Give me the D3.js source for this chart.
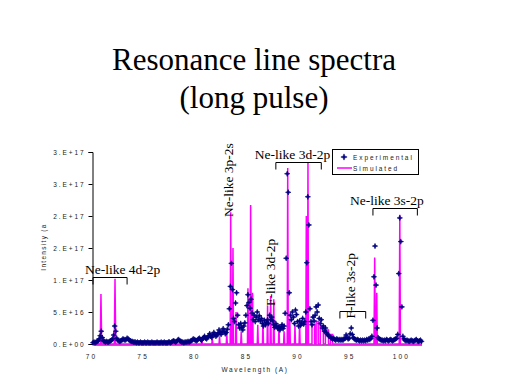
<!DOCTYPE html>
<html><head><meta charset="utf-8">
<script src="https://cdn.jsdelivr.net/npm/d3@7/dist/d3.min.js"></script>
<style>
html,body{margin:0;padding:0;background:#fff;}
svg{display:block;}
</style></head>
<body>
<script>
// ---- data (intensity in units of 1e16 a.u.) ----
const titleLines = ["Resonance line spectra", "(long pulse)"];
const yTickValues = [0, 5, 10, 15, 20, 25, 30];
const yTickLabels = ["0.E+00", "5.E+16", "1.E+17", "2.E+17", "2.E+17", "3.E+17", "3.E+17"];
const xTickValues = [70, 75, 80, 85, 90, 95, 100];
const xTickLabels = ["70", "75", "80", "85", "90", "95", "100"];
const xTitle = "Wavelength (A)";
const yTitle = "Intensity (a";
const seriesNames = ["Experimental", "Simulated"];

// Experimental: sampled every 0.1 A from 70.0 A
const expStart = 70.0, expStep = 0.1;
const expIntensity = [
 0.2,0.3,0.2,0.3,0.4,0.5,
 0.8,1.3,2.0,1.0,0.5,
 0.4,0.3,0.4,0.3,0.3,0.4,0.5,0.6,0.8,
 1.4,2.8,2.0,0.9,0.6,
 0.5,0.4,0.5,0.6,0.8,0.7,
 0.6,0.7,0.9,0.8,0.6,0.5,0.4,0.4,0.3,0.3,
 0.3,0.2,0.3,0.2,0.2,0.3,0.2,0.2,0.2,0.3,
 0.2,0.2,0.3,0.2,0.2,0.2,0.3,0.2,0.2,0.2,
 0.2,0.3,0.2,0.2,0.2,0.3,0.2,0.2,0.3,0.2,
 0.2,0.2,0.3,0.3,0.2,0.3,0.4,0.5,0.4,0.3,
 0.4,0.6,0.7,0.5,0.4,0.3,0.3,0.2,0.3,0.3,
 0.3,0.4,0.3,0.4,0.5,0.6,0.8,0.7,0.6,0.5,
 0.6,0.8,0.9,0.7,0.6,0.8,1.0,1.2,0.9,0.8,
 1.0,1.3,1.6,1.2,1.0,1.4,1.8,1.5,1.2,1.4,
 1.7,2.2,1.8,1.5,1.9,2.4,2.0,1.6,1.8,2.3,
 3.0,5.5,9.0,12.6,8.5,4.0,3.5,6.4,8.0,4.5,
 3.0,2.5,3.2,2.6,2.2,2.8,3.3,4.5,6.0,7.7,
 6.5,5.6,7.0,4.8,3.8,4.5,3.5,4.2,5.0,3.8,
 4.4,3.6,4.0,3.2,2.8,3.7,3.0,3.4,3.8,3.2,
 4.5,3.8,4.2,3.6,3.0,2.6,3.2,2.8,2.4,2.7,
 2.2,2.6,3.0,2.4,2.8,4.8,13.4,26.6,23.7,8.0,
 4.5,3.8,5.0,4.2,3.2,5.3,4.6,3.5,2.8,3.6,
 2.9,3.3,4.0,3.1,3.5,5.0,12.7,23.0,18.6,5.5,
 3.5,3.0,4.2,3.6,4.5,5.8,5.0,6.1,4.0,3.2,
 3.8,2.5,2.8,2.0,2.5,1.8,1.5,1.3,1.2,1.0,
 0.9,0.8,0.9,0.7,0.6,0.8,0.7,0.6,0.7,0.6,
 0.7,0.6,0.8,0.9,1.4,1.0,0.8,0.9,1.6,2.5,
 1.5,1.0,0.8,0.7,0.6,0.7,0.6,0.5,0.6,0.5,
 0.6,0.5,0.6,0.5,0.7,0.6,0.8,0.7,0.9,1.2,
 3.7,10.5,15.3,9.2,2.5,1.0,0.8,0.7,0.6,0.6,
 0.5,0.6,0.5,0.7,0.6,0.5,0.6,0.7,0.6,0.5,
 0.6,0.7,0.8,0.9,1.5,11.0,19.7,16.0,5.8,1.2,
 0.8,0.6,0.5,0.6,0.5,0.4,0.5,0.6,0.5,0.4,
 0.5,0.6,0.7,0.5,0.4,0.5,0.6,0.4
];

// Simulated: polyline vertices
const simWave = [
 70.0,70.7,70.77,70.84,
 72.06,72.13,72.2,
 80.5,80.55,80.6,
 81.5,81.55,81.6,
 82.2,82.25,82.3,
 82.9,82.95,83.0,
 83.28,83.33,83.38,
 83.5,83.55,83.6,
 83.8,83.85,83.9,
 84.3,84.35,84.4,
 84.95,85.0,85.06,
 85.2,85.26,85.32,
 85.4,85.45,85.5,
 85.9,85.95,86.0,
 86.4,86.45,86.5,
 86.85,86.9,86.95,
 87.15,87.2,87.25,
 87.45,87.5,87.55,
 87.95,88.0,88.05,
 88.45,88.5,88.55,
 88.8,88.85,88.9,
 89.0,89.05,89.1,
 89.5,89.55,89.6,
 89.95,90.0,90.05,
 90.6,90.65,90.7,
 90.76,90.81,90.86,
 91.2,91.2,91.45,91.45,
 91.6,91.6,91.8,91.8,
 92.0,92.0,92.3,92.3,
 92.5,92.5,92.8,92.8,
 93.0,93.0,93.2,93.2,
 97.2,97.27,97.34,
 97.42,97.47,97.52,
 99.64,99.7,99.76,
 101.8
];
const simIntensity = [
 0,0,7.8,0,
 0,10.2,0,
 0,0.5,0,
 0,0.8,0,
 0,1.2,0,
 0,1.6,0,
 0,20.6,0,
 0,15,0,
 0,5,0,
 0,2,0,
 0,8.7,0,
 0,21.7,0,
 0,8,0,
 0,3,0,
 0,4,0,
 0,6,0,
 0,7.5,0,
 0,7,0,
 0,3,0,
 0,2,0,
 0,27.5,0,
 0,4,0,
 0,3,0,
 0,3.5,0,
 0,20,0,
 0,28.3,0,
 0,3,3,0,
 0,3.5,3.5,0,
 0,2.8,2.8,0,
 0,2.2,2.2,0,
 0,1.5,1.5,0,
 0,13.5,0,
 0,8,0,
 0,20.2,0,
 0
];

// Annotations: label, bracket start/end wavelength, bracket height (1e16)
const bracketLabels = ["Ne-like 4d-2p", "Ne-like 3d-2p", "Ne-like 3s-2p", "F-like 3s-2p"];
const bracketFrom = [70.0, 87.7, 97.1, 93.9];
const bracketTo = [73.3, 92.1, 101.4, 96.4];
const bracketLevel = [10.5, 28.4, 21.3, 5.2];
const verticalLabels = ["Ne-like 3p-2s", "F-like 3d-2p"];
const verticalAt = [83.15, 87.2];
const verticalMid = [25.6, 11.2];

// ---- drawing ----
const W = 512, H = 384;
const svg = d3.select("body").append("svg").attr("width", W).attr("height", H);
svg.append("rect").attr("width", W).attr("height", H).attr("fill", "#fff");

const x = d3.scaleLinear().domain([70, 101.8]).range([93, 421.5]);
const y = d3.scaleLinear().domain([0, 30]).range([344, 152]);

// title
svg.selectAll("text.title").data(titleLines).enter().append("text")
  .attr("class", "title")
  .attr("x", 254).attr("y", (d, i) => 70 + i * 38)
  .attr("text-anchor", "middle")
  .attr("font-family", "'Liberation Serif','Times New Roman',serif")
  .attr("font-size", 31).attr("fill", "#000").text(d => d);

const small = "'Liberation Sans',Arial,sans-serif";

// axes
const yAxis = d3.axisLeft(y).tickValues(yTickValues).tickSize(4)
  .tickFormat((d, i) => yTickLabels[i]);
const gy = svg.append("g").attr("transform", "translate(92.5,0)").call(yAxis);
gy.select(".domain").attr("stroke", "#000");
gy.selectAll("line").attr("stroke", "#000");
gy.selectAll("text").attr("font-family", small).attr("font-size", 6.5)
  .attr("letter-spacing", "1.9px").attr("fill", "#222").attr("x", -7);

const xAxis = d3.axisBottom(x).tickValues(xTickValues).tickSize(0)
  .tickFormat((d, i) => xTickLabels[i]);
const gx = svg.append("g").attr("transform", "translate(0,344.5)").call(xAxis);
gx.select(".domain").attr("stroke", "#000");
gx.selectAll("text").attr("font-family", small).attr("font-size", 6.5)
  .attr("letter-spacing", "2.2px").attr("fill", "#222").attr("dy", 0).attr("y", 14).attr("dx", -2);

svg.append("text").attr("x", 255).attr("y", 372).attr("text-anchor", "middle")
  .attr("font-family", small).attr("font-size", 6.5).attr("letter-spacing", "1.6px")
  .attr("fill", "#222").text(xTitle);
svg.append("text").attr("transform", "translate(46,247) rotate(-90)").attr("text-anchor", "middle")
  .attr("font-family", small).attr("font-size", 6.5).attr("letter-spacing", "1.3px")
  .attr("fill", "#222").text(yTitle);

// simulated
const simData = simWave.map((w, i) => [w, simIntensity[i]]);
svg.append("path").datum(simData)
  .attr("d", d3.line().x(d => x(d[0])).y(d => y(d[1])))
  .attr("fill", "none").attr("stroke", "#ff00ff").attr("stroke-width", 1.5);

// experimental
const expData = expIntensity.map((v, i) => [expStart + i * expStep, v]);
const star4 = {
  draw(ctx, size) {
    const r = Math.sqrt(size) * 0.9, k = r * 0.28;
    ctx.moveTo(0, -r); ctx.lineTo(k, -k); ctx.lineTo(r, 0); ctx.lineTo(k, k);
    ctx.lineTo(0, r); ctx.lineTo(-k, k); ctx.lineTo(-r, 0); ctx.lineTo(-k, -k); ctx.closePath();
  }
};
const sym = d3.symbol().type(star4).size(9);
svg.append("g").selectAll("path").data(expData).enter().append("path")
  .attr("transform", d => `translate(${x(d[0])},${y(d[1])})`)
  .attr("d", sym).attr("fill", "#000080").attr("stroke", "#000080").attr("stroke-width", 0.6);

// brackets + labels
const serif = "'Liberation Serif','Times New Roman',serif";
bracketLabels.forEach((lab, i) => {
  const x0 = x(bracketFrom[i]), x1 = x(bracketTo[i]), yy = Math.round(y(bracketLevel[i])) + 0.5;
  svg.append("path").attr("d", `M${x0},${yy + 7}V${yy}H${x1}V${yy + 7}`)
    .attr("fill", "none").attr("stroke", "#000").attr("stroke-width", 1);
});
const hLabels = [
  {t: bracketLabels[0], i: 0, dx: -8},
  {t: bracketLabels[1], i: 1, dx: -21},
  {t: bracketLabels[2], i: 2, dx: -23}
];
hLabels.forEach(o => {
  svg.append("text").attr("x", x(bracketFrom[o.i]) + o.dx).attr("y", y(bracketLevel[o.i]) - 3)
    .attr("font-family", serif).attr("font-size", 13.5).attr("fill", "#000").text(o.t);
});
// F-like 3s-2p vertical
svg.append("text")
  .attr("transform", `translate(${x(95.35)},${y(bracketLevel[3]) - 25}) rotate(-90)`)
  .attr("text-anchor", "middle")
  .attr("font-family", serif).attr("font-size", 13.5).attr("fill", "#000").text(bracketLabels[3]);
verticalLabels.forEach((lab, i) => {
  svg.append("text")
    .attr("transform", `translate(${x(verticalAt[i]) + 4},${y(verticalMid[i])}) rotate(-90)`)
    .attr("text-anchor", "middle")
    .attr("font-family", serif).attr("font-size", 13.5).attr("fill", "#000").text(lab);
});

// legend
const lg = svg.append("g");
lg.append("rect").attr("x", 332.5).attr("y", 149.5).attr("width", 86).attr("height", 25)
  .attr("fill", "#fff").attr("stroke", "#000").attr("stroke-width", 1);
lg.append("path").attr("transform", "translate(344,157)").attr("d", d3.symbol().type(star4).size(12))
  .attr("fill", "#000080").attr("stroke", "#000080").attr("stroke-width", 0.6);
lg.append("line").attr("x1", 337).attr("x2", 352).attr("y1", 168).attr("y2", 168)
  .attr("stroke", "#ff00ff").attr("stroke-width", 1.5);
lg.selectAll("text").data(seriesNames).enter().append("text")
  .attr("x", 353).attr("y", (d, i) => 159.5 + i * 11)
  .attr("font-family", small).attr("font-size", 6.5).attr("letter-spacing", "1.9px")
  .attr("fill", "#222").text(d => d);
</script>
</body></html>
